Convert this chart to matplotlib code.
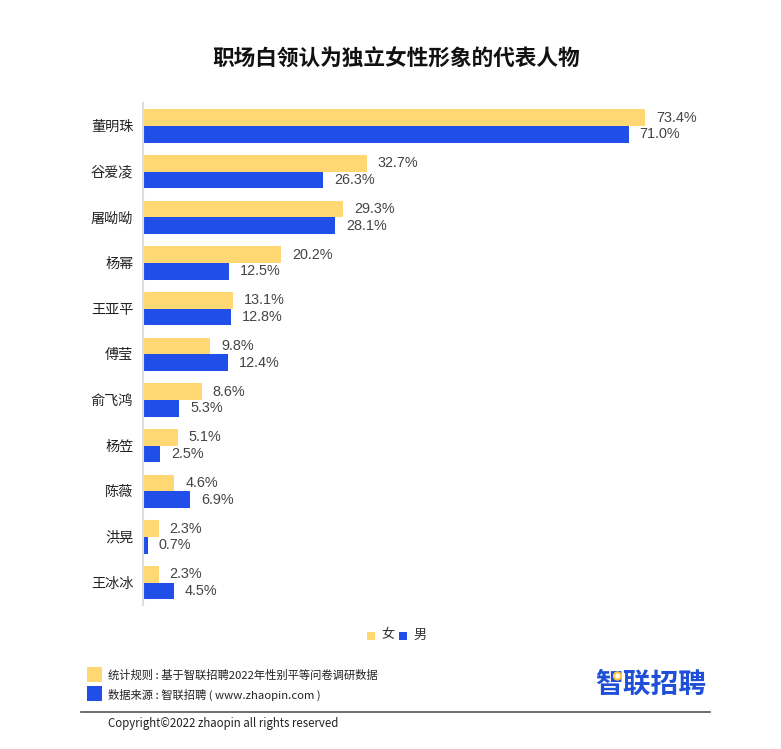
import matplotlib
matplotlib.use('Agg')
import matplotlib.pyplot as plt
from matplotlib.patches import Rectangle, Ellipse
from matplotlib.transforms import ScaledTranslation

plt.rcParams['font.family'] = ['Noto Sans CJK SC', 'DejaVu Sans']

names = ['董明珠', '谷爱凌', '屠呦呦', '杨幂', '王亚平', '傅莹', '俞飞鸿', '杨笠', '陈薇', '洪晃', '王冰冰']
female = [73.4, 32.7, 29.3, 20.2, 13.1, 9.8, 8.6, 5.1, 4.6, 2.3, 2.3]
male = [71.0, 26.3, 28.1, 12.5, 12.8, 12.4, 5.3, 2.5, 6.9, 0.7, 4.5]

yellow = '#FFD873'
blue = '#1F4FE8'
W, H = 781, 749

fig = plt.figure(figsize=(W / 100, H / 100), dpi=100)
ax = fig.add_axes([143 / W, 1 - 605 / H, (W - 143) / W, 502 / H])

pos = list(range(len(names)))
h = 0.365
ax.barh([p - h / 2 for p in pos], female, height=h, color=yellow)
ax.barh([p + h / 2 for p in pos], male, height=h, color=blue)

# value labels
for p, f, m in zip(pos, female, male):
    ax.text(f + 1.6, p - h / 2, f'{f}%', va='center', ha='left', fontsize=10.4,
            family='Liberation Sans', color='#444444')
    ax.text(m + 1.6, p + h / 2, f'{m}%', va='center', ha='left', fontsize=10.4,
            family='Liberation Sans', color='#444444')

ax.set_xlim(0, (W - 143) / 6.84)
ax.set_ylim(10.49, -0.504)
ax.set_yticks(pos)
ax.set_yticklabels(names, fontsize=10.2, color='#222222', va='center')
ax.tick_params(axis='y', length=0, pad=7)
# labels sit a pixel lower than the tick position
shift = ScaledTranslation(0, -1 / 100, fig.dpi_scale_trans)
for lab in ax.get_yticklabels():
    lab.set_transform(lab.get_transform() + shift)
ax.set_xticks([])
for s in ['top', 'right', 'bottom']:
    ax.spines[s].set_visible(False)
ax.spines['left'].set_color('#DDDDDD')
ax.spines['left'].set_linewidth(1.5)
ax.patch.set_alpha(0)


# pixel coords from the top left, for the furniture
def fx(x):
    return x / W


def fy(y):
    return 1 - y / H


def box(x, y, w, hh, color):
    fig.add_artist(Rectangle((fx(x), fy(y + hh)), w / W, hh / H, transform=fig.transFigure, color=color, lw=0))


fig.text(fx(396.5), fy(59), '职场白领认为独立女性形象的代表人物', ha='center', va='center',
         fontsize=15.6, fontweight='bold', color='#111111')

# legend
box(367, 632, 8, 8, yellow)
fig.text(fx(381), fy(635), '女', va='center', fontsize=9.5, color='#333333')
box(399, 632, 8, 8, blue)
fig.text(fx(413), fy(635), '男', va='center', fontsize=9.5, color='#333333')

# footer
box(87, 667, 15, 15, yellow)
box(87, 686, 15, 15, blue)
fig.text(fx(108), fy(675), '统计规则 : 基于智联招聘2022年性别平等问卷调研数据', va='center', fontsize=8.15, color='#222222')
fig.text(fx(108), fy(695), '数据来源 : 智联招聘 ( www.zhaopin.com )', va='center', fontsize=8.15, color='#222222')
fig.text(fx(706), fy(684.5), '智联招聘', ha='right', va='center', fontsize=20, fontweight='bold', color='#1F4FD8')
# yellow ring on the logo, above the text
fig.add_artist(Ellipse((fx(617.5), fy(676)), 7 / W, 7 / H, transform=fig.transFigure,
                       facecolor='white', edgecolor='#FFC83C', lw=1.6, zorder=5))
fig.add_artist(plt.Line2D([fx(81), fx(710)], [fy(711.5), fy(711.5)], transform=fig.transFigure, color='#555555', lw=1.2))
fig.text(fx(108), fy(723), 'Copyright©2022 zhaopin all rights reserved', va='center', fontsize=8.25, color='#222222')

fig.savefig('out.png', dpi=100)
